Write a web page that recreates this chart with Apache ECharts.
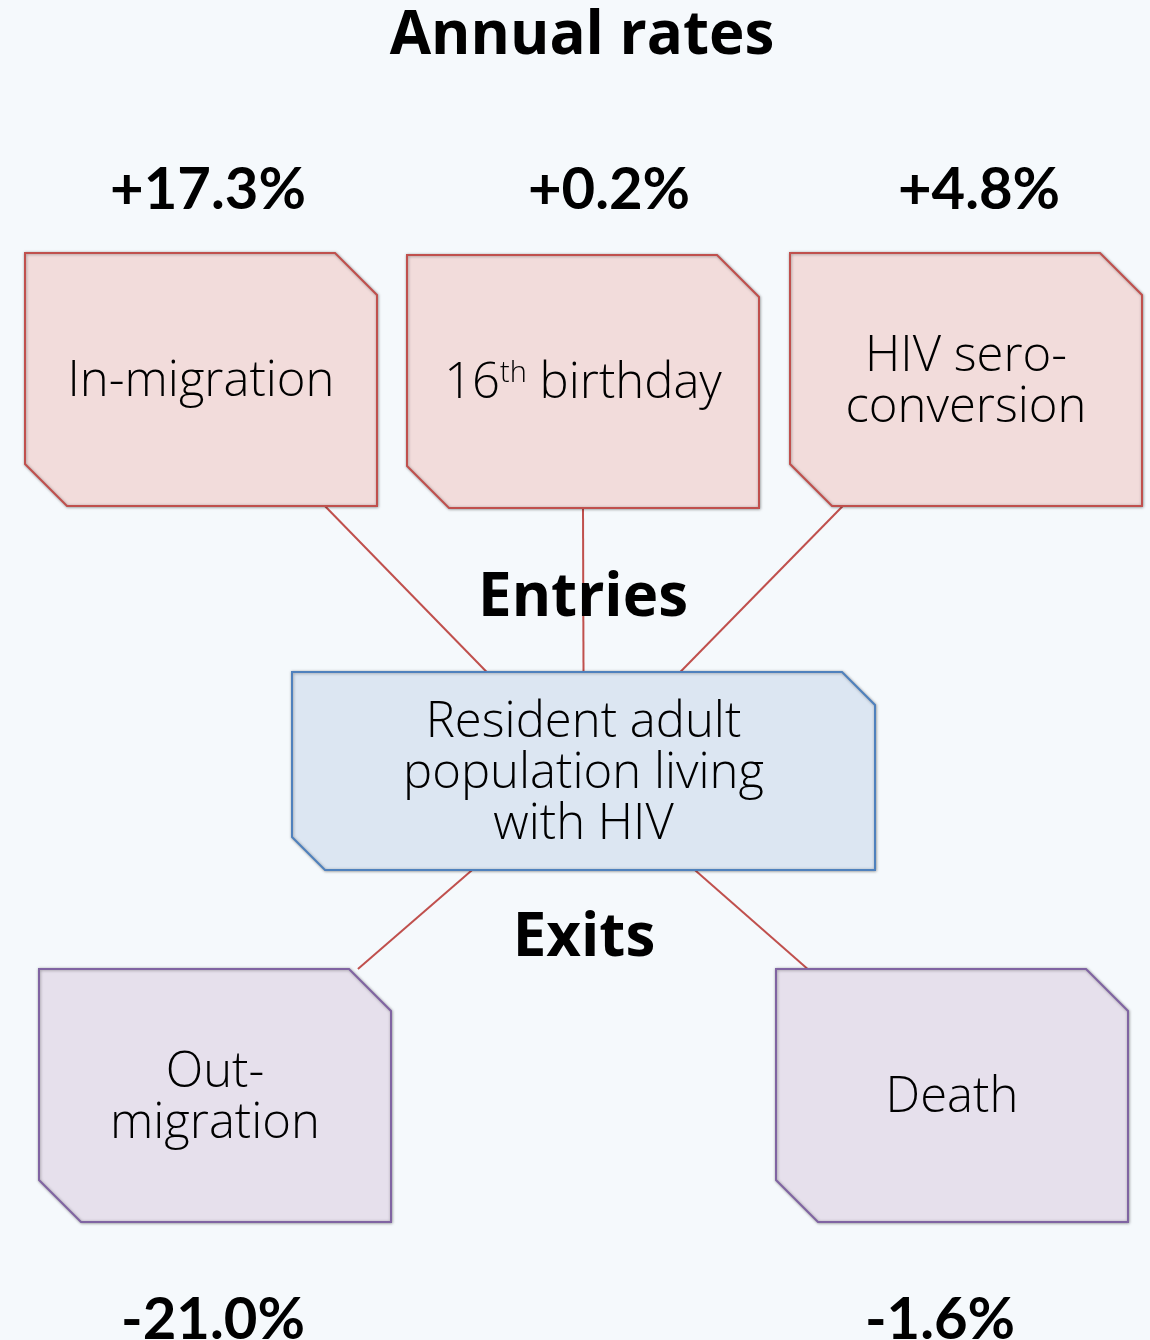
<!DOCTYPE html>
<html><head><meta charset="utf-8">
<script src="https://cdn.jsdelivr.net/npm/echarts@6/dist/echarts.min.js"></script>
<style>html,body{margin:0;padding:0;background:#f5f9fc}#c{width:1150px;height:1340px}</style>
</head><body><div id="c"></div>
<script>
// ---- data ----
const titleText = 'Annual rates';
const entryNames = ['In-migration', '16{sup|th} birthday', 'HIV sero-\nconversion'];
const entryRates = [17.3, 0.2, 4.8];
const exitNames = ['Out-\nmigration', 'Death'];
const exitRates = [-21.0, -1.6];
const stockName = 'Resident adult\npopulation living\nwith HIV';
const groupLabels = ['Entries', 'Exits'];

// ---- layout (positions / sizes / styles only) ----
const L = {
  entryBoxes: [[25, 253], [407, 255], [790, 253]],
  exitBoxes: [[39, 969], [776, 969]],
  boxW: 352, boxH: 253, cut: 42,
  stock: {x: 292, y: 672, w: 583, h: 198, cut: 33},
  labelDy: 3,
  entryRateY: 190, entryRateDx: [7, 26, 13],
  exitRateY: 1320, exitRateDx: [-2, -12],
  entryLinkFrom: [0.852, 0.5, 0.15], entryLinkTo: [0.334, 0.5, 0.666],
  exitLinkFrom: [0.309, 0.691], exitLinkTo: [0.906, 0.09],
  groupLabelPos: [[583, 599], [584, 939]],
  titlePos: [582, 37]
};
const FONT = '"Open Sans", Lato, sans-serif';
const BFONT = 'Lato, "Open Sans", sans-serif';
const entryStyle = {fill: '#f2dcdb', stroke: '#c0504d'};
const stockStyle = {fill: '#dce6f2', stroke: '#4f81bd'};
const exitStyle = {fill: '#e6e0ec', stroke: '#8064a2'};
const linkColor = '#c0504d';

function fmtRate(v) { return (v > 0 ? '+' : '') + v.toFixed(1) + '%'; }

function boxPoints(api, x, y, w, h, c) {
  return [[x, y], [x + w - c, y], [x + w, y + c], [x + w, y + h], [x + c, y + h], [x, y + h - c]]
    .map(p => api.coord(p));
}
function labelText(api, text, cx, cy) {
  const p = api.coord([cx, cy]);
  return {
    type: 'text', z2: 10,
    style: {
      text: text, x: p[0], y: p[1], align: 'center', verticalAlign: 'middle',
      fontFamily: FONT, fontWeight: 300, fontSize: 49, lineHeight: 51, fill: '#000',
      rich: {sup: {fontFamily: FONT, fontWeight: 300, fontSize: 29, lineHeight: 30, verticalAlign: 'top', fill: '#000'}}
    }
  };
}
function rateText(api, text, cx, cy) {
  const p = api.coord([cx, cy]);
  return {
    type: 'text', z2: 10,
    style: {text: text, x: p[0], y: p[1], align: 'center', verticalAlign: 'middle',
      fontFamily: BFONT, fontWeight: 700, fontSize: 58, fill: '#000'}
  };
}
function boxGroup(api, x, y, w, h, c, st, name, rate, rateY, rateDx) {
  const children = [{
    type: 'polygon',
    shape: {points: boxPoints(api, x, y, w, h, c)},
    style: {fill: st.fill, stroke: st.stroke, lineWidth: 2,
      shadowBlur: 3, shadowColor: 'rgba(0,0,0,0.35)', shadowOffsetX: 0.5, shadowOffsetY: 0.5}
  }, labelText(api, name, x + w / 2, y + h / 2 + L.labelDy)];
  if (rate != null) children.push(rateText(api, rate, x + w / 2 + rateDx, rateY));
  return {type: 'group', children: children};
}
function linkLine(api, x1, y1, x2, y2) {
  const a = api.coord([x1, y1]), b = api.coord([x2, y2]);
  return {type: 'line', shape: {x1: a[0], y1: a[1], x2: b[0], y2: b[1]},
    style: {stroke: linkColor, lineWidth: 2}};
}

const S = L.stock;
const option = {
  backgroundColor: '#f5f9fc',
  animation: false,
  grid: {left: 0, right: 0, top: 0, bottom: 0},
  xAxis: {type: 'value', min: 0, max: 1150, show: false},
  yAxis: {type: 'value', min: 0, max: 1340, inverse: true, show: false},
  series: [
    { // connectors (entries)
      type: 'custom', z: 1, data: entryRates.map((v, i) => [i, v]),
      renderItem: (params, api) => {
        const i = api.value(0), b = L.entryBoxes[i];
        return linkLine(api, b[0] + L.boxW * L.entryLinkFrom[i], b[1] + L.boxH,
          S.x + S.w * L.entryLinkTo[i], S.y);
      }
    },
    { // connectors (exits)
      type: 'custom', z: 1, data: exitRates.map((v, i) => [i, v]),
      renderItem: (params, api) => {
        const i = api.value(0), b = L.exitBoxes[i];
        return linkLine(api, S.x + S.w * L.exitLinkFrom[i], S.y + S.h,
          b[0] + L.boxW * L.exitLinkTo[i], b[1]);
      }
    },
    { // entry boxes
      type: 'custom', z: 2, data: entryRates.map((v, i) => [i, v]),
      renderItem: (params, api) => {
        const i = api.value(0), b = L.entryBoxes[i];
        return boxGroup(api, b[0], b[1], L.boxW, L.boxH, L.cut, entryStyle,
          entryNames[i], fmtRate(api.value(1)), L.entryRateY, L.entryRateDx[i]);
      }
    },
    { // stock box
      type: 'custom', z: 2, data: [[0]],
      renderItem: (params, api) => boxGroup(api, S.x, S.y, S.w, S.h, S.cut, stockStyle, stockName, null)
    },
    { // exit boxes
      type: 'custom', z: 2, data: exitRates.map((v, i) => [i, v]),
      renderItem: (params, api) => {
        const i = api.value(0), b = L.exitBoxes[i];
        return boxGroup(api, b[0], b[1], L.boxW, L.boxH, L.cut, exitStyle,
          exitNames[i], fmtRate(api.value(1)), L.exitRateY, L.exitRateDx[i]);
      }
    }
  ],
  graphic: [
    {type: 'text', x: L.titlePos[0], y: L.titlePos[1], z: 100,
      style: {text: titleText, align: 'center', verticalAlign: 'middle', fontFamily: FONT, fontWeight: 700, fontSize: 60, fill: '#000'}},
    ...groupLabels.map((t, i) => ({type: 'text', x: L.groupLabelPos[i][0], y: L.groupLabelPos[i][1], z: 100,
      style: {text: t, align: 'center', verticalAlign: 'middle', fontFamily: FONT, fontWeight: 700, fontSize: 60, fill: '#000'}}))
  ]
};
const chart = echarts.init(document.getElementById('c'));
chart.setOption(option);
</script>
</body></html>
